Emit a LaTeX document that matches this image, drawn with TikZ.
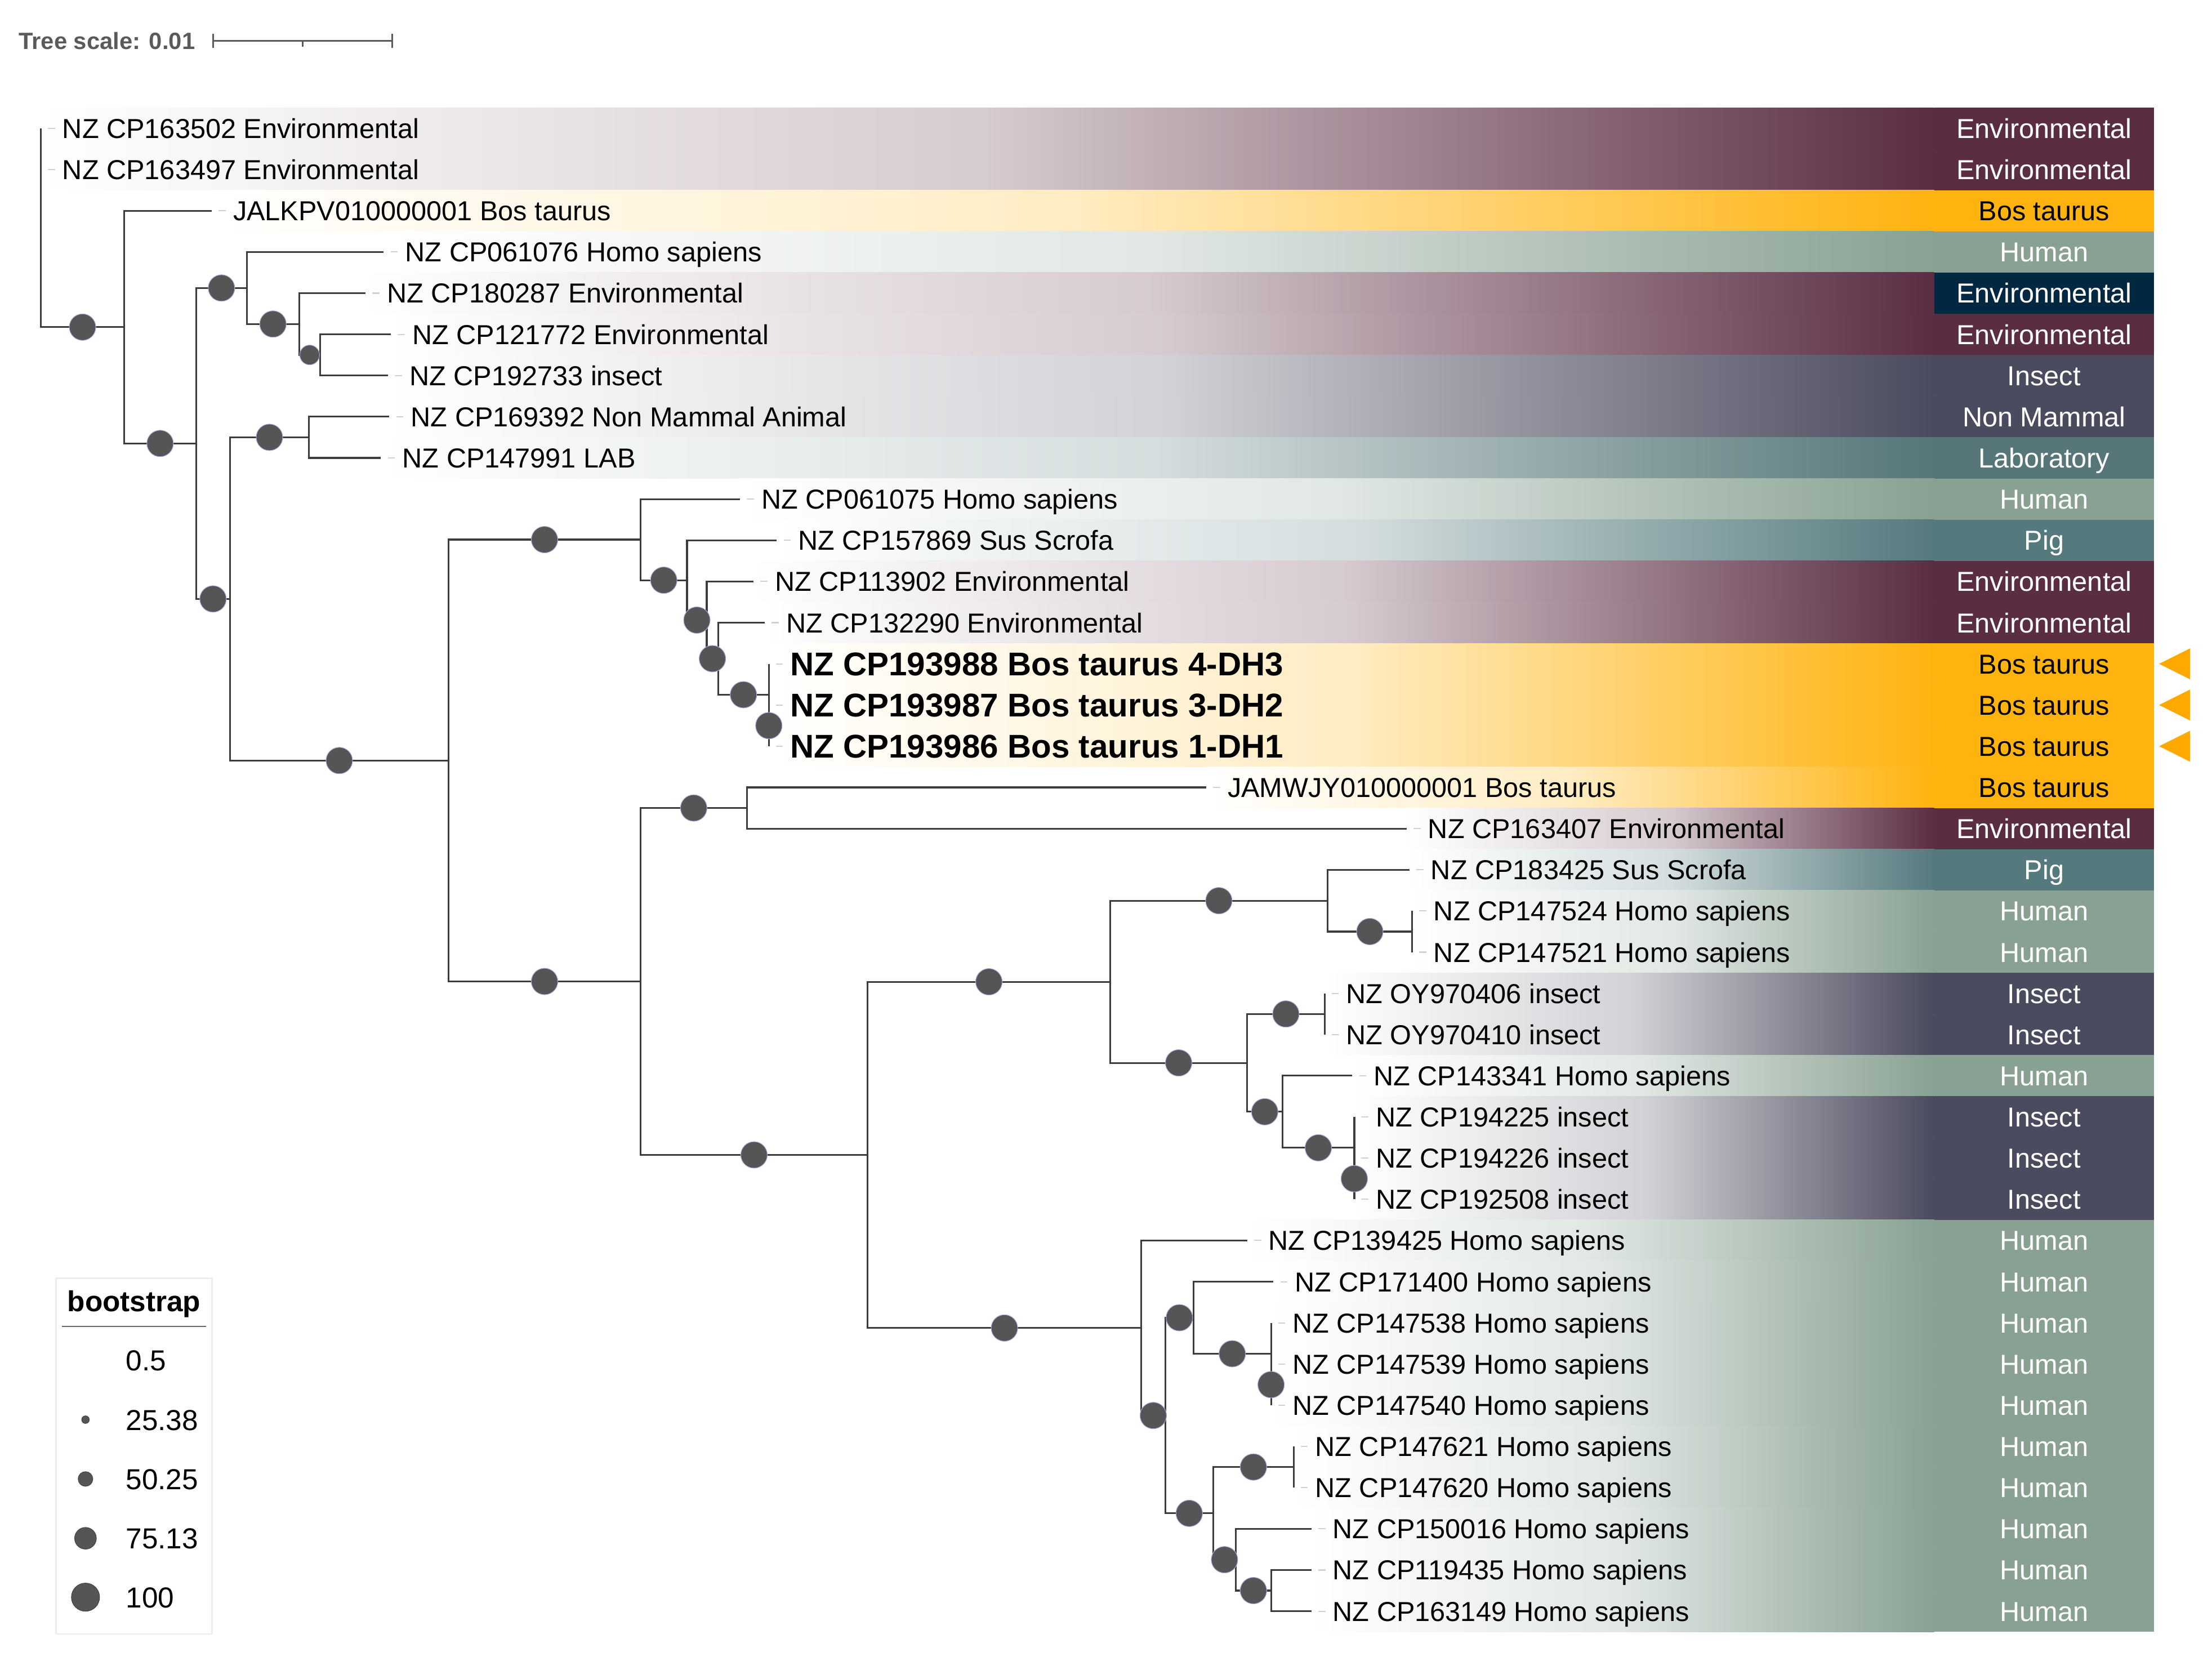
\documentclass[tikz,border=0pt]{standalone}
\usepackage{fontspec}
\setmainfont{Liberation Sans}
\usepackage{tikz}

\definecolor{envc}{HTML}{5B2D43}
\definecolor{bosc}{HTML}{FFB30F}
\definecolor{humc}{HTML}{88A192}
\definecolor{navyc}{HTML}{022741}
\definecolor{insc}{HTML}{4B4B5F}
\definecolor{labc}{HTML}{567679}
\definecolor{pigc}{HTML}{557A7E}
\definecolor{bootc}{HTML}{555555}
\definecolor{halo}{HTML}{A9A9DD}
\definecolor{branchc}{HTML}{3C3C3C}
\definecolor{flagc}{HTML}{FFA800}
\definecolor{scalec}{HTML}{5A5A5A}

\newcommand{\leaffont}{\fontsize{13.85}{16}\selectfont}
\newcommand{\leafbffont}{\fontsize{16.6}{19}\selectfont\bfseries}
\newcommand{\legfont}{\fontsize{14.6}{17}\selectfont}
\newcommand{\scalefont}{\fontsize{11.9}{14}\selectfont\bfseries}

\begin{document}
\begin{tikzpicture}[x=0.25051mm, y=-7.3124mm,
  branch/.style={draw=branchc, line width=0.9pt},
  boot/.style={circle, fill=bootc, draw=halo, line width=0.3pt, inner sep=0pt, minimum size=4.7mm},
  bootsm/.style={boot, minimum size=3.5mm},
  leaf/.style={anchor=west, inner sep=0pt, font=\leaffont, text height=3.5mm, text depth=0pt},
  leafbf/.style={leaf, font=\leafbffont, text height=4.2mm},
  leaftick/.style={draw=black!18, line width=0.6pt},
  catlab/.style={inner sep=0pt, font=\leaffont, text height=3.5mm, text depth=0pt},
  scalebar/.style={draw=scalec, line width=0.9pt},
  legdot/.style={circle, fill=bootc, draw=bootc!80!black, line width=0.3pt, inner sep=0pt},
  legtxt/.style={anchor=west, inner sep=0pt, font=\legfont, text height=3.7mm, text depth=0pt}]
\useasboundingbox (0,-2.1175) rectangle (1568,38.417);

\foreach \r/\x/\c in {1/29/envc, 2/29/envc, 3/150/bosc, 4/272/humc, 5/259/envc, 6/277/envc,
  7/275/insc, 8/276/insc, 9/270/labc, 10/524/humc, 11/550/pigc, 12/534/envc, 13/542/envc,
  14/545/bosc, 15/545/bosc, 16/545/bosc, 17/855/bosc, 18/997/envc, 19/999/pigc, 20/1001/humc,
  21/1001/humc, 22/939/insc, 23/939/insc, 24/958/humc, 25/960/insc, 26/960/insc, 27/960/insc,
  28/884/humc, 29/902/humc, 30/901/humc, 31/901/humc, 32/901/humc, 33/917/humc, 34/917/humc,
  35/929/humc, 36/929/humc, 37/929/humc}
  \shade[left color=white, right color=\c, middle color=\c!25] (\x,\r-0.5) rectangle (1371,\r+0.5);

\foreach \r/\c/\t/\tc in {1/envc/Environmental/white, 2/envc/Environmental/white, 3/bosc/Bos taurus/black,
  4/humc/Human/white, 5/navyc/Environmental/white, 6/envc/Environmental/white, 7/insc/Insect/white,
  8/insc/Non Mammal/white, 9/labc/Laboratory/white, 10/humc/Human/white, 11/pigc/Pig/white,
  12/envc/Environmental/white, 13/envc/Environmental/white, 14/bosc/Bos taurus/black,
  15/bosc/Bos taurus/black, 16/bosc/Bos taurus/black, 17/bosc/Bos taurus/black,
  18/envc/Environmental/white, 19/pigc/Pig/white, 20/humc/Human/white, 21/humc/Human/white,
  22/insc/Insect/white, 23/insc/Insect/white, 24/humc/Human/white, 25/insc/Insect/white,
  26/insc/Insect/white, 27/insc/Insect/white, 28/humc/Human/white, 29/humc/Human/white,
  30/humc/Human/white, 31/humc/Human/white, 32/humc/Human/white, 33/humc/Human/white,
  34/humc/Human/white, 35/humc/Human/white, 36/humc/Human/white, 37/humc/Human/white}
{
  \fill[\c] (1371,\r-0.5) rectangle (1527,\r+0.5);
  \node[catlab, text=\tc] (c\r) at (1449,\r) {\t};
}

\foreach \r in {14,15,16}
  \fill[flagc] (1530.5,\r) -- (1552.5,\r-0.377) -- (1552.5,\r+0.377) -- cycle;

\coordinate (nr)  at (29,3.4);
\coordinate (nA)  at (88,5.825);
\coordinate (nB)  at (139,8.649);
\coordinate (nC)  at (175,4.875);
\coordinate (nD)  at (212,5.75);
\coordinate (nE)  at (227,6.5);
\coordinate (nF)  at (163,12.424);
\coordinate (nG)  at (219,8.5);
\coordinate (nH)  at (318,16.348);
\coordinate (nI)  at (454,10.984);
\coordinate (nK)  at (487,11.969);
\coordinate (nL)  at (501,12.938);
\coordinate (nM)  at (509,13.875);
\coordinate (nN)  at (545,14.75);
\coordinate (nO)  at (545,15.5);
\coordinate (nJ)  at (454,21.711);
\coordinate (nP)  at (529.5,17.5);
\coordinate (nQ)  at (615,25.922);
\coordinate (nR)  at (787,21.719);
\coordinate (nT)  at (941,19.75);
\coordinate (nV)  at (1001,20.5);
\coordinate (nU)  at (884,23.688);
\coordinate (nW)  at (939,22.5);
\coordinate (nX)  at (909,24.875);
\coordinate (nY)  at (960,25.75);
\coordinate (nZ)  at (960,26.5);
\coordinate (nS)  at (809,30.125);
\coordinate (nAA) at (826,32.25);
\coordinate (nAB) at (846,29.875);
\coordinate (nAD) at (901,30.75);
\coordinate (nAE) at (901,31.5);
\coordinate (nAC) at (860,34.625);
\coordinate (nAF) at (917,33.5);
\coordinate (nAG) at (876,35.75);
\coordinate (nAH) at (901,36.5);

\foreach \r/\x in {1/29, 2/29, 3/150, 4/272, 5/259, 6/277, 7/275, 8/276, 9/270, 10/524.5,
  11/550.5, 12/534, 13/542, 14/545, 15/545, 16/545, 17/855, 18/997, 19/999, 20/1001, 21/1001,
  22/939, 23/939, 24/958.5, 25/960, 26/960, 27/960, 28/884, 29/902.6, 30/901, 31/901, 32/901,
  33/917, 34/917, 35/929.5, 36/929.5, 37/929.5}
  \coordinate (t\r) at (\x,\r);

\foreach \p/\c in {nr/t1, nr/t2, nA/t3, nC/t4, nD/t5, nE/t6, nE/t7, nG/t8, nG/t9, nI/t10,
  nK/t11, nL/t12, nM/t13, nN/t14, nO/t15, nO/t16, nP/t17, nP/t18, nT/t19, nV/t20, nV/t21,
  nW/t22, nW/t23, nX/t24, nY/t25, nZ/t26, nZ/t27, nS/t28, nAB/t29, nAD/t30, nAE/t31, nAE/t32,
  nAF/t33, nAF/t34, nAG/t35, nAH/t36, nAH/t37}
  \draw[branch] (\p) |- (\c);

\foreach \p/\c in {nr/nA, nA/nB, nB/nC, nB/nF, nC/nD, nD/nE, nF/nG, nF/nH, nH/nI, nH/nJ,
  nI/nK, nK/nL, nL/nM, nM/nN, nN/nO, nJ/nP, nJ/nQ, nQ/nR, nQ/nS, nR/nT, nR/nU, nT/nV,
  nU/nW, nU/nX, nX/nY, nY/nZ, nS/nAA, nAA/nAB, nAA/nAC, nAB/nAD, nAD/nAE, nAC/nAF,
  nAC/nAG, nAG/nAH}
  \draw[branch] (\p) |- (\c);

\foreach \p/\c in {nr/nA, nA/nB, nB/nC, nB/nF, nC/nD, nF/nG, nF/nH, nH/nI, nH/nJ,
  nI/nK, nK/nL, nL/nM, nM/nN, nN/nO, nJ/nP, nJ/nQ, nQ/nR, nQ/nS, nR/nT, nR/nU, nT/nV,
  nU/nW, nU/nX, nX/nY, nY/nZ, nS/nAA, nAA/nAB, nAA/nAC, nAB/nAD, nAD/nAE, nAC/nAF,
  nAC/nAG, nAG/nAH}
  \path (\p) |- node[boot, pos=0.75] (b\c) {} (\c);
\path (nD) |- node[bootsm, pos=0.75] (bnE) {} (nE);

\node[leaf] (l1)  at (44,1)  {NZ CP163502 Environmental};
\node[leaf] (l2)  at (44,2)  {NZ CP163497 Environmental};
\node[leaf] (l3)  at (165,3) {JALKPV010000001 Bos taurus};
\node[leaf] (l4)  at (287,4) {NZ CP061076 Homo sapiens};
\node[leaf] (l5)  at (274,5) {NZ CP180287 Environmental};
\node[leaf] (l6)  at (292,6) {NZ CP121772 Environmental};
\node[leaf] (l7)  at (290,7) {NZ CP192733 insect};
\node[leaf] (l8)  at (291,8) {NZ CP169392 Non Mammal Animal};
\node[leaf] (l9)  at (285,9) {NZ CP147991 LAB};
\node[leaf] (l10) at (539.5,10) {NZ CP061075 Homo sapiens};
\node[leaf] (l11) at (565.5,11) {NZ CP157869 Sus Scrofa};
\node[leaf] (l12) at (549,12) {NZ CP113902 Environmental};
\node[leaf] (l13) at (557,13) {NZ CP132290 Environmental};
\node[leafbf] (l14) at (560,14) {NZ CP193988 Bos taurus 4-DH3};
\node[leafbf] (l15) at (560,15) {NZ CP193987 Bos taurus 3-DH2};
\node[leafbf] (l16) at (560,16) {NZ CP193986 Bos taurus 1-DH1};
\node[leaf] (l17) at (870,17) {JAMWJY010000001 Bos taurus};
\node[leaf] (l18) at (1012,18) {NZ CP163407 Environmental};
\node[leaf] (l19) at (1014,19) {NZ CP183425 Sus Scrofa};
\node[leaf] (l20) at (1016,20) {NZ CP147524 Homo sapiens};
\node[leaf] (l21) at (1016,21) {NZ CP147521 Homo sapiens};
\node[leaf] (l22) at (954,22) {NZ OY970406 insect};
\node[leaf] (l23) at (954,23) {NZ OY970410 insect};
\node[leaf] (l24) at (973.5,24) {NZ CP143341 Homo sapiens};
\node[leaf] (l25) at (975,25) {NZ CP194225 insect};
\node[leaf] (l26) at (975,26) {NZ CP194226 insect};
\node[leaf] (l27) at (975,27) {NZ CP192508 insect};
\node[leaf] (l28) at (899,28) {NZ CP139425 Homo sapiens};
\node[leaf] (l29) at (917.6,29) {NZ CP171400 Homo sapiens};
\node[leaf] (l30) at (916,30) {NZ CP147538 Homo sapiens};
\node[leaf] (l31) at (916,31) {NZ CP147539 Homo sapiens};
\node[leaf] (l32) at (916,32) {NZ CP147540 Homo sapiens};
\node[leaf] (l33) at (932,33) {NZ CP147621 Homo sapiens};
\node[leaf] (l34) at (932,34) {NZ CP147620 Homo sapiens};
\node[leaf] (l35) at (944.5,35) {NZ CP150016 Homo sapiens};
\node[leaf] (l36) at (944.5,36) {NZ CP119435 Homo sapiens};
\node[leaf] (l37) at (944.5,37) {NZ CP163149 Homo sapiens};

\foreach \r in {1,...,37}
  \draw[leaftick] ([xshift=1.25mm]t\r) -- ([xshift=-1.25mm]l\r.west);

\node[anchor=west, inner sep=0pt, font=\scalefont, text=scalec, text height=2.9mm, text depth=0pt] (ts) at (13,-1.124) {Tree scale: 0.01};
\coordinate (s0) at (151,-1.124);
\coordinate (sm) at (214.5,-1.124);
\coordinate (s1) at (278,-1.124);
\draw[scalebar] (s0) -- (s1);
\draw[scalebar] ([yshift=1.25mm]s0) -- ([yshift=-1.25mm]s0);
\draw[scalebar] ([yshift=1.25mm]s1) -- ([yshift=-1.25mm]s1);
\draw[scalebar] (sm) -- ([yshift=-1mm]sm);

\draw[draw=black!7, line width=0.8pt] (39.6,28.914) rectangle (150.4,37.553);
\node[inner sep=0pt, font=\legfont\bfseries, text height=3.7mm, text depth=0pt] (lt) at (95,29.47) {bootstrap};
\draw[draw=black!60, line width=0.6pt] (44,30.085) -- (146,30.085);
\node[legtxt] (v1) at (89,30.91) {0.5};
\node[legdot, minimum size=1.35mm] (d2) at (60.6,32.35) {};
\node[legtxt] (v2) at (89,32.35) {25.38};
\node[legdot, minimum size=2.6mm] (d3) at (60.6,33.79) {};
\node[legtxt] (v3) at (89,33.79) {50.25};
\node[legdot, minimum size=3.85mm] (d4) at (60.6,35.23) {};
\node[legtxt] (v4) at (89,35.23) {75.13};
\node[legdot, minimum size=5mm] (d5) at (60.6,36.66) {};
\node[legtxt] (v5) at (89,36.66) {100};
\end{tikzpicture}
\end{document}
